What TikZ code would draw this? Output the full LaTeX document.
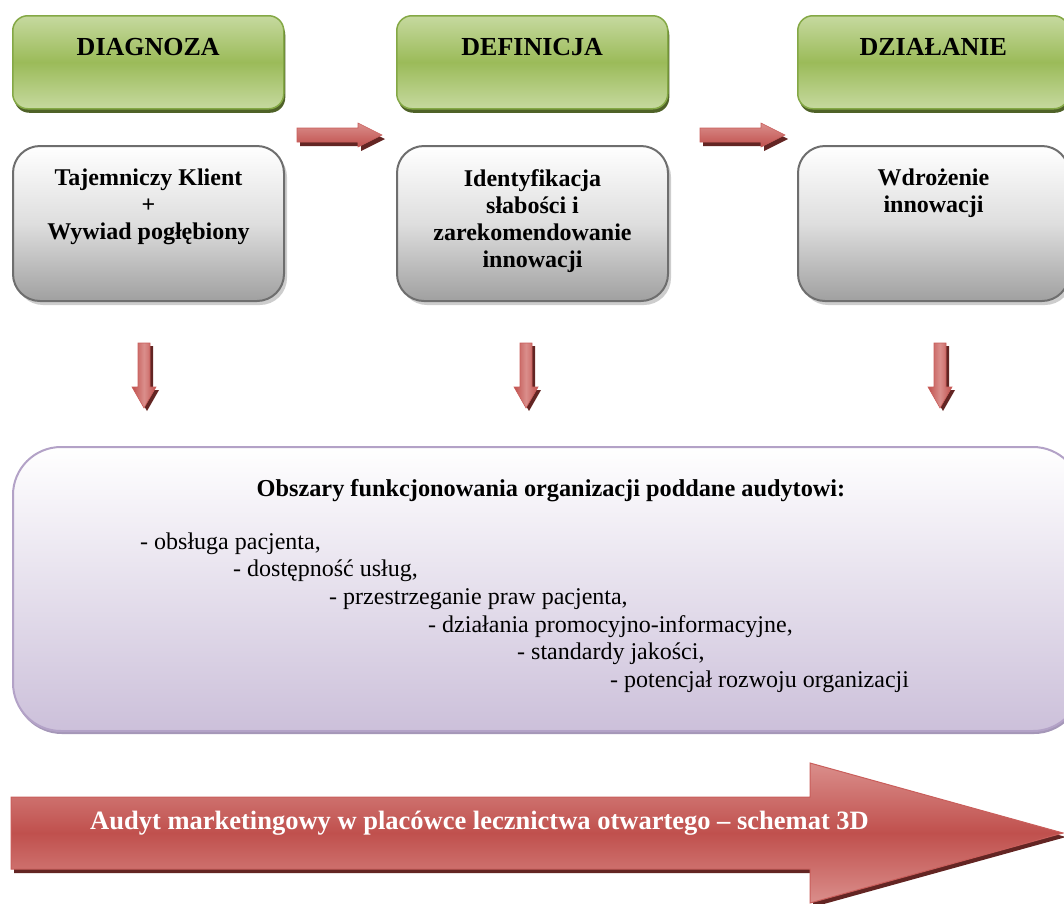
\documentclass[tikz,border=0pt]{standalone}
\usepackage{fontspec}
\setmainfont{Liberation Serif}
\usetikzlibrary{positioning,shadows}

\definecolor{zielony}{HTML}{9BBB59}
\definecolor{zielonyJasny}{HTML}{C6D99F}
\definecolor{zielonyObrys}{HTML}{84A845}
\definecolor{zielonyCien}{HTML}{4F6228}
\definecolor{szaryObrys}{HTML}{6E6E6E}
\definecolor{szarySrodek}{HTML}{DEDEDE}
\definecolor{szaryDol}{HTML}{A0A0A0}
\definecolor{szaryCien}{HTML}{CDCDCD}
\definecolor{czerwony}{HTML}{C0504D}
\definecolor{czerwonyJasny}{HTML}{DA8E8B}
\definecolor{czerwonyObrys}{HTML}{C95E5B}
\definecolor{czerwonyCien}{HTML}{632523}
\definecolor{fioletObrys}{HTML}{B3A2C7}
\definecolor{fioletDol}{HTML}{CCC0DA}
\definecolor{fioletCien}{HTML}{A597B8}

\tikzset{
    naglowek/.style={rectangle, anchor=north west, rounded corners=15pt,
        draw=zielonyObrys, line width=1.5pt,
        top color=zielonyJasny, bottom color=zielonyJasny, middle color=zielony,
        minimum width=271pt, minimum height=93pt, inner sep=0pt,
        text height=40pt, text depth=53pt,
        font=\fontsize{26}{30}\selectfont\bfseries,
        drop shadow={shadow xshift=1.5pt, shadow yshift=-4pt, fill=zielonyCien, opacity=1}},
    opis/.style={rectangle, anchor=north west, rounded corners=27pt,
        draw=szaryObrys, line width=2pt,
        top color=white, bottom color=szaryDol, middle color=szarySrodek,
        minimum width=271pt, minimum height=155pt,
        drop shadow={shadow xshift=3pt, shadow yshift=-4pt, fill=szaryCien, opacity=1}},
    opisTekst/.style={anchor=north, align=center, inner sep=0pt,
        font=\fontsize{24}{27}\selectfont\bfseries},
    obszar/.style={rectangle, anchor=north west, rounded corners=48pt,
        draw=fioletObrys, line width=2pt,
        top color=white, bottom color=fioletDol,
        minimum width=1068pt, minimum height=284pt,
        drop shadow={shadow xshift=1pt, shadow yshift=-3pt, fill=fioletCien, opacity=1}},
    lista/.style={anchor=base west, inner sep=0pt, font=\fontsize{24}{27}\selectfont},
    strzalkaPozioma/.style={draw=czerwonyObrys, line width=0.6pt,
        top color=czerwonyJasny, bottom color=czerwony},
    strzalkaPionowa/.style={draw=czerwonyObrys, line width=0.6pt,
        left color=czerwony, right color=czerwony, middle color=czerwonyJasny},
    duzaStrzalka/.style={draw=czerwonyObrys, line width=1pt,
        top color=czerwonyJasny, bottom color=czerwonyJasny, middle color=czerwony},
}

\begin{document}
\begin{tikzpicture}[x=1pt,y=-1pt]
    \useasboundingbox (0,0) rectangle (1064,903);
    \clip (0,0) rectangle (1064,903);

    % Etapy audytu
    \node[naglowek] (diagnoza) at (12,15) {DIAGNOZA};
    \node[naglowek] (definicja) at (396,15) {DEFINICJA};
    \node[naglowek] (dzialanie) at (797,15) {DZIAŁANIE};

    \node[opis] (diagnozaOpis) at (12,145) {};
    \node[opis] (definicjaOpis) at (396,145) {};
    \node[opis] (dzialanieOpis) at (797,145) {};

    \node[opisTekst, below=24pt of diagnozaOpis.north] (diagnozaTekst)
        {Tajemniczy Klient\\+\\Wywiad pogłębiony};
    \node[opisTekst, below=24pt of definicjaOpis.north] (definicjaTekst)
        {Identyfikacja\\słabości i\\zarekomendowanie\\innowacji};
    \node[opisTekst, below=24pt of dzialanieOpis.north] (dzialanieTekst)
        {Wdrożenie\\innowacji};

    % Strzalki miedzy etapami
    \foreach \x in {297,700} {
        \fill[czerwonyCien, shift={(\x+3,139)}]
            (0,-7) -- (61,-7) -- (61,-12) -- (85,0) -- (61,12) -- (61,7) -- (0,7) -- cycle;
        \draw[strzalkaPozioma, shift={(\x,135)}]
            (0,-7) -- (61,-7) -- (61,-12) -- (85,0) -- (61,12) -- (61,7) -- (0,7) -- cycle;
    }

    % Strzalki w dol
    \foreach \x in {144,526,940} {
        \fill[czerwonyCien, shift={(\x+3,346)}]
            (-6,0) -- (6,0) -- (6,44) -- (12,44) -- (0,65) -- (-12,44) -- (-6,44) -- cycle;
        \draw[strzalkaPionowa, shift={(\x,343)}]
            (-6,0) -- (6,0) -- (6,44) -- (12,44) -- (0,65) -- (-12,44) -- (-6,44) -- cycle;
    }

    % Obszary audytu
    \node[obszar] (obszary) at (12,446) {};
    \node[anchor=base, inner sep=0pt, font=\fontsize{24.3}{27}\selectfont\bfseries]
        (tytul) at (551,496) {Obszary funkcjonowania organizacji poddane audytowi:};

    \foreach \x/\y/\t [count=\i] in {140/549/{- obsługa pacjenta,},
        233/576/{- dostępność usług,}, 329/604/{- przestrzeganie praw pacjenta,},
        428/632/{- działania promocyjno-informacyjne,}, 517/659/{- standardy jakości,},
        610/687/{- potencjał rozwoju organizacji}}
        \node[lista] (punkt\i) at (\x,\y) {\t};

    % Duza strzalka
    \fill[czerwonyCien] (14,801) -- (813,801) -- (813,767) -- (1066,837) -- (813,907)
        -- (813,873) -- (14,873) -- cycle;
    \draw[duzaStrzalka] (11,797) -- (810,797) -- (810,763) -- (1063,833) -- (810,903)
        -- (810,869) -- (11,869) -- cycle;
    \node[anchor=base west, inner sep=0pt, text=white,
        font=\fontsize{26.5}{30}\selectfont\bfseries] (audyt) at (90,829)
        {Audyt marketingowy w placówce lecznictwa otwartego – schemat 3D};
\end{tikzpicture}
\end{document}
